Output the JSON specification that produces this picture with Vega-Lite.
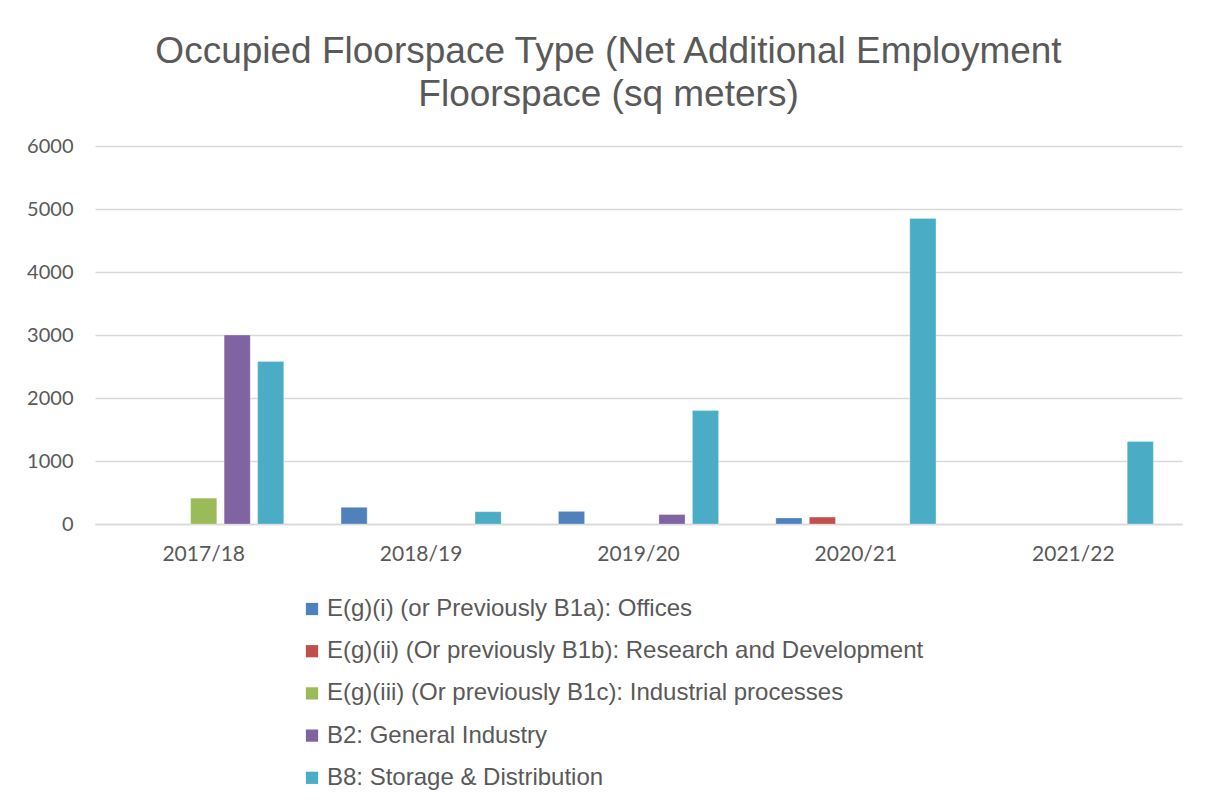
{
  "$schema": "https://vega.github.io/schema/vega-lite/v6.json",
  "autosize": {"type": "none"},
  "width": 1087,
  "height": 378,
  "padding": {"left": 95, "top": 146, "right": 23, "bottom": 281},
  "background": "white",
  "title": {
    "text": ["Occupied Floorspace Type (Net Additional Employment", "Floorspace (sq meters)"],
    "font": "Liberation Sans",
    "fontSize": 37,
    "fontWeight": "normal",
    "color": "#595959",
    "lineHeight": 43,
    "anchor": "middle",
    "dx": -30,
    "offset": 22
  },
  "data": {
    "values": [
      {"year": "2017/18", "type": "E(g)(iii) (Or previously B1c): Industrial processes", "value": 410},
      {"year": "2017/18", "type": "B2: General Industry", "value": 3000},
      {"year": "2017/18", "type": "B8: Storage & Distribution", "value": 2580},
      {"year": "2018/19", "type": "E(g)(i) (or Previously B1a): Offices", "value": 265},
      {"year": "2018/19", "type": "B8: Storage & Distribution", "value": 195},
      {"year": "2019/20", "type": "E(g)(i) (or Previously B1a): Offices", "value": 200},
      {"year": "2019/20", "type": "B2: General Industry", "value": 150},
      {"year": "2019/20", "type": "B8: Storage & Distribution", "value": 1800},
      {"year": "2020/21", "type": "E(g)(i) (or Previously B1a): Offices", "value": 95},
      {"year": "2020/21", "type": "E(g)(ii) (Or previously B1b): Research and Development", "value": 110},
      {"year": "2020/21", "type": "B8: Storage & Distribution", "value": 4850},
      {"year": "2021/22", "type": "B8: Storage & Distribution", "value": 1310}
    ]
  },
  "mark": {"type": "bar", "stroke": "white", "strokeOpacity": 0.4, "strokeWidth": 0.7},
  "encoding": {
    "x": {
      "field": "year",
      "type": "nominal",
      "sort": ["2017/18", "2018/19", "2019/20", "2020/21", "2021/22"],
      "scale": {"paddingInner": 0, "paddingOuter": 0},
      "axis": {
        "title": null,
        "labelAngle": 0,
        "labelFont": "Lato",
        "labelFontSize": 21,
        "labelColor": "#595959",
        "labelPadding": 19,
        "ticks": false,
        "domainColor": "#D9D9D9",
        "domainWidth": 1.5,
        "grid": false
      }
    },
    "xOffset": {
      "field": "type",
      "type": "nominal",
      "sort": [
        "E(g)(i) (or Previously B1a): Offices",
        "E(g)(ii) (Or previously B1b): Research and Development",
        "E(g)(iii) (Or previously B1c): Industrial processes",
        "B2: General Industry",
        "B8: Storage & Distribution"
      ],
      "scale": {
        "domain": [
          "E(g)(i) (or Previously B1a): Offices",
          "E(g)(ii) (Or previously B1b): Research and Development",
          "E(g)(iii) (Or previously B1c): Industrial processes",
          "B2: General Industry",
          "B8: Storage & Distribution"
        ],
        "paddingInner": 0.22,
        "paddingOuter": 0.855
      }
    },
    "y": {
      "field": "value",
      "type": "quantitative",
      "scale": {"domain": [0, 6000], "nice": false},
      "axis": {
        "title": null,
        "values": [0, 1000, 2000, 3000, 4000, 5000, 6000],
        "format": "d",
        "labelFont": "Lato",
        "labelFontSize": 20,
        "labelColor": "#595959",
        "labelPadding": 22,
        "ticks": false,
        "domain": false,
        "gridColor": "#D9D9D9",
        "gridWidth": 1.5
      }
    },
    "color": {
      "field": "type",
      "type": "nominal",
      "scale": {
        "domain": [
          "E(g)(i) (or Previously B1a): Offices",
          "E(g)(ii) (Or previously B1b): Research and Development",
          "E(g)(iii) (Or previously B1c): Industrial processes",
          "B2: General Industry",
          "B8: Storage & Distribution"
        ],
        "range": ["#4F81BD", "#C0504D", "#9BBB59", "#8064A2", "#4BACC6"]
      },
      "legend": {
        "title": null,
        "orient": "none",
        "legendX": 205,
        "legendY": 451,
        "direction": "vertical",
        "symbolType": "square",
        "symbolSize": 150,
        "symbolStrokeWidth": 0,
        "symbolOpacity": 1,
        "labelFont": "Liberation Sans",
        "labelFontSize": 24,
        "labelColor": "#595959",
        "labelOffset": 3,
        "labelLimit": 900,
        "rowPadding": 18.2
      }
    }
  },
  "config": {
    "view": {"stroke": null}
  }
}
